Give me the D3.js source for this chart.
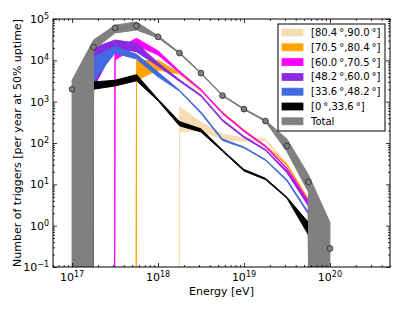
<!DOCTYPE html>
<html>
<head>
<meta charset="utf-8">
<script src="https://cdn.jsdelivr.net/npm/d3@7"></script>
<style>
    body { margin: 0; background: #fff; }
    svg { font-family: 'DejaVu Sans', sans-serif; }
</style>
</head>
<body>
<div id="chart"></div>
<script>
// energy bin centres, log10(E/eV)
const binExp = [17.0, 17.25, 17.5, 17.75, 18.0, 18.25, 18.5, 18.75, 19.0, 19.25, 19.5, 19.75, 20.0];

// zenith bands: upper / lower edge, triggers per year (0 = none)
const wheatHi   = [0, 0, 0, 0, 0, 740, 320, 165, 130, 125, 32, 3.6, 0];
const wheatLo   = [0, 0, 0, 0, 0, 190, 200, 120, 110, 115, 28, 3.2, 0];
const orangeHi  = [0, 0, 0, 1.0e4, 1.0e4, 4.9e3, 1.9e3, 560, 210, 88, 31, 4.4, 0];
const orangeLo  = [0, 0, 0, 3.3e3, 5.8e3, 4.7e3, 1.8e3, 530, 200, 84, 29, 4.0, 0];
const magentaHi = [0, 0, 1.8e4, 3.4e4, 1.7e4, 5.5e3, 2.0e3, 540, 200, 85, 25, 4.0, 0];
const magentaLo = [0, 0, 1.0e4, 2.3e4, 1.35e4, 5.0e3, 1.9e3, 510, 190, 80, 23, 3.0, 0];
const purpleHi  = [0, 2.0e4, 3.1e4, 2.6e4, 8.7e3, 3.4e3, 1.45e3, 370, 145, 70, 21, 3.4, 0];
const purpleLo  = [0, 2.2e3, 2.1e4, 1.6e4, 7.3e3, 3.1e3, 1.35e3, 340, 135, 66, 19, 3.0, 0];
const blueHi    = [0, 1.2e4, 2.2e4, 1.4e4, 5.2e3, 1.9e3, 560, 125, 80, 40, 13, 2.1, 0];
const blueLo    = [0, 3.3e3, 1.5e4, 1.07e4, 4.0e3, 1.8e3, 520, 115, 76, 38, 12, 1.9, 0];
const blackHi   = [0, 3.0e3, 3.3e3, 4.5e3, 1.15e3, 330, 220, 68, 23, 14, 4.9, 1.2, 0];
const blackLo   = [0, 2.0e3, 2.4e3, 3.2e3, 1.05e3, 260, 185, 63, 21, 13, 4.6, 0.6, 0];

// total
const totalVal = [2.0e3, 2.1e4, 6.1e4, 6.8e4, 3.7e4, 1.5e4, 4.9e3, 1.4e3, 660, 340, 85, 11.5, 0.28];
const totalHi  = [3.3e3, 3.1e4, 7.1e4, 8.5e4, 3.95e4, 1.55e4, 5.0e3, 1.45e3, 680, 355, 125, 17, 1.2];
const totalLo  = [0, 1.8e4, 4.6e4, 5.4e4, 3.5e4, 1.45e4, 4.8e3, 1.38e3, 645, 330, 62, 6.5, 0];

const bandNames  = ['[80.4\u2009°,90.0\u2009°]', '[70.5\u2009°,80.4\u2009°]', '[60.0\u2009°,70.5\u2009°]',
                    '[48.2\u2009°,60.0\u2009°]', '[33.6\u2009°,48.2\u2009°]', '[0\u2009°,33.6\u2009°]'];
const bandColors = ['#f5deb3', '#ffa500', '#ff00ff', '#8a2be2', '#4169e1', '#000000'];
const bandHi = [wheatHi, orangeHi, magentaHi, purpleHi, blueHi, blackHi];
const bandLo = [wheatLo, orangeLo, magentaLo, purpleLo, blueLo, blackLo];

const xTickExps = [17, 18, 19, 20];
const yTickExps = [-1, 0, 1, 2, 3, 4, 5];

const W = 415, H = 312;
const margin = {top: 19, right: 25, bottom: 45, left: 53};
const width = W - margin.left - margin.right;
const height = H - margin.top - margin.bottom;

const svg = d3.select('#chart').append('svg')
    .attr('width', W)
    .attr('height', H);

const plot = svg.append('g')
    .attr('transform', `translate(${margin.left},${margin.top})`);

const x = d3.scaleLog().domain([6e16, 5e20]).range([0, width]);
const y = d3.scaleLog().domain([1e-1, 1e5]).range([height, 0]);
// matplotlib clips non-positive values to a tiny number on log axes
const yv = v => v > 0 ? y(v) : y(1e-300);

svg.append('defs').append('clipPath').attr('id', 'clip')
    .append('rect').attr('width', width).attr('height', height);

const body = plot.append('g').attr('clip-path', 'url(#clip)');

function band(hi, lo) {
    const pts = binExp.map((e, i) => [x(Math.pow(10, e)), yv(hi[i])]);
    for (let i = binExp.length - 1; i >= 0; i--) {
        pts.push([x(Math.pow(10, binExp[i])), yv(lo[i])]);
    }
    return 'M' + pts.map(p => p.join(',')).join('L') + 'Z';
}

bandColors.forEach((c, k) => {
    body.append('path')
        .attr('d', band(bandHi[k], bandLo[k]))
        .attr('fill', c)
        .attr('stroke', c)
        .attr('stroke-width', 1)
        .attr('stroke-linejoin', 'round');
});

body.append('path')
    .attr('d', band(totalHi, totalLo))
    .attr('fill', '#808080')
    .attr('stroke', '#808080')
    .attr('stroke-width', 1);

body.append('path')
    .datum(totalVal)
    .attr('d', d3.line().x((d, i) => x(Math.pow(10, binExp[i]))).y(d => y(d)))
    .attr('fill', 'none')
    .attr('stroke', '#808080')
    .attr('stroke-width', 1.2);

body.selectAll('.pt')
    .data(totalVal)
    .enter()
    .append('circle')
    .attr('cx', (d, i) => x(Math.pow(10, binExp[i])))
    .attr('cy', d => y(d))
    .attr('r', 2.9)
    .attr('fill', '#808080')
    .attr('stroke', '#262626')
    .attr('stroke-width', 0.8);

// ticks
function minors(lo, hi) {
    const out = [];
    for (let e = lo; e <= hi; e++) for (let m = 2; m <= 9; m++) out.push(m * Math.pow(10, e));
    return out;
}
const xMajor = xTickExps.map(e => Math.pow(10, e));
const yMajor = yTickExps.map(e => Math.pow(10, e));
const xMinor = minors(16, 20).filter(v => v >= 6e16 && v <= 5e20);
const yMinor = minors(-1, 4);

function addAxis(gen, scale, vals, size, tr) {
    const g = plot.append('g')
        .attr('transform', tr)
        .call(gen(scale).tickValues(vals).tickSize(-size).tickSizeOuter(0).tickFormat(''));
    g.select('.domain').remove();
    g.selectAll('line').attr('stroke', '#000').attr('stroke-width', 0.8);
    return g;
}
addAxis(d3.axisBottom, x, xMajor, 4, `translate(0,${height})`);
addAxis(d3.axisBottom, x, xMinor, 2, `translate(0,${height})`);
addAxis(d3.axisTop, x, xMajor, 4, 'translate(0,0)');
addAxis(d3.axisTop, x, xMinor, 2, 'translate(0,0)');
addAxis(d3.axisLeft, y, yMajor, 4, 'translate(0,0)');
addAxis(d3.axisLeft, y, yMinor, 2, 'translate(0,0)');
addAxis(d3.axisRight, y, yMajor, 4, `translate(${width},0)`);
addAxis(d3.axisRight, y, yMinor, 2, `translate(${width},0)`);

plot.append('rect')
    .attr('width', width)
    .attr('height', height)
    .attr('fill', 'none')
    .attr('stroke', '#000')
    .attr('stroke-width', 1);

function powLabel(t, e) {
    t.append('tspan').text('10');
    t.append('tspan').attr('dy', '-0.5em').attr('font-size', '8px').text(String(e).replace('-', '\u2212'));
}

xTickExps.forEach(e => {
    const t = plot.append('text')
        .attr('x', x(Math.pow(10, e)))
        .attr('y', height + 14)
        .attr('text-anchor', 'middle')
        .attr('font-size', '11px');
    powLabel(t, e);
});
yTickExps.forEach(e => {
    const t = plot.append('text')
        .attr('x', -4)
        .attr('y', y(Math.pow(10, e)) + 4)
        .attr('text-anchor', 'end')
        .attr('font-size', '11px');
    powLabel(t, e);
});

plot.append('text')
    .attr('x', width / 2)
    .attr('y', height + 28)
    .attr('text-anchor', 'middle')
    .attr('font-size', '11px')
    .text('Energy [eV]');

svg.append('text')
    .attr('transform', `translate(21,${margin.top + height / 2}) rotate(-90)`)
    .attr('text-anchor', 'middle')
    .attr('font-size', '11px')
    .text('Number of triggers [per year at 50% uptime]');

// legend
const legend = svg.append('g').attr('transform', 'translate(278,24)');
legend.append('rect')
    .attr('width', 107)
    .attr('height', 107)
    .attr('fill', '#fff')
    .attr('stroke', '#000')
    .attr('stroke-width', 1);

const legNames = bandNames.concat(['Total']);
const legColors = bandColors.concat(['#808080']);
legNames.forEach((n, i) => {
    const cy = 8.5 + i * 14.8;
    legend.append('rect')
        .attr('x', 4)
        .attr('y', cy - 3.5)
        .attr('width', 21)
        .attr('height', 7)
        .attr('fill', legColors[i])
        .attr('stroke', legColors[i])
        .attr('stroke-width', 0.8);
    legend.append('text')
        .attr('x', 33)
        .attr('y', cy + 3.5)
        .attr('font-size', '10px')
        .text(n);
});
</script>
</body>
</html>
